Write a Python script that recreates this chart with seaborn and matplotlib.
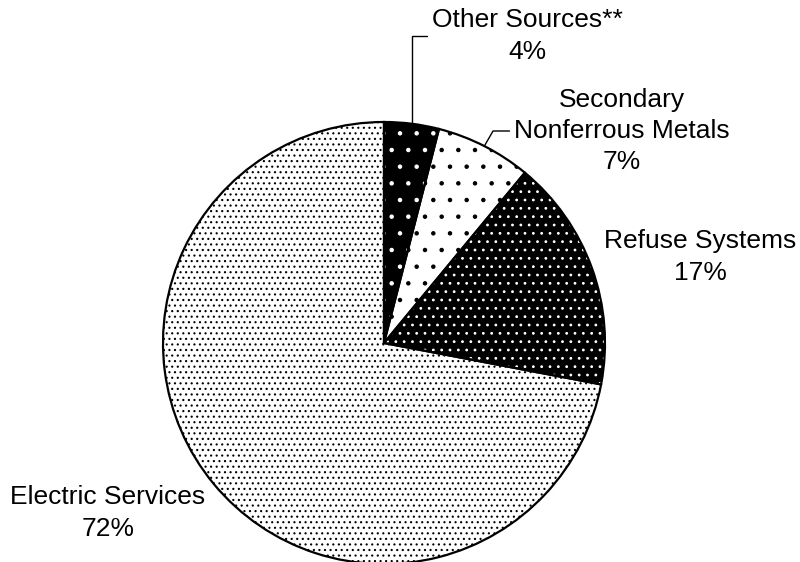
import numpy as np
import seaborn as sns
import matplotlib.pyplot as plt

sns.set_style("white")
plt.rcParams['font.family'] = ['Liberation Sans', 'DejaVu Sans']
plt.rcParams['text.color'] = 'black'
plt.rcParams['hatch.linewidth'] = 0.8

# data
sources = ['Other Sources**', 'Secondary\nNonferrous Metals', 'Refuse Systems', 'Electric Services']
shares = [4, 7, 17, 72]

# fill styles: face colour, dot colour, dot pattern
face_colors = ['black', 'white', 'black', 'white']
dot_colors = ['white', 'black', 'white', 'black']
hatches = ['.', '.', '..', '...']

# pie centre / radius in pixels, label centres in pixels
W, H = 800, 562
cx, cy, r = 384, 343, 221
label_px = [(527, 36), (622, 131), (700, 257), (108, 513)]


def to_data(px, py):
    return (px - cx) / r, (cy - py) / r


fig = plt.figure(figsize=(W / 100, H / 100), dpi=100)
ax = fig.add_axes([0, 0, 1, 1])

wedges, _ = ax.pie(shares, startangle=90, counterclock=False, colors=face_colors,
                   hatch=hatches, wedgeprops=dict(linewidth=0))
for w, c in zip(wedges, dot_colors):
    w.set_edgecolor(c)   # hatch takes the edge colour

# outlines on top
ax.pie(shares, startangle=90, counterclock=False, colors=['none'] * len(shares),
       wedgeprops=dict(edgecolor='black', linewidth=1.6))

leader_angle = {0: 90, 1: 60}
for i, (name, pct) in enumerate(zip(sources, shares)):
    label = f'{name}\n{pct}%'
    pos = to_data(*label_px[i])
    mid = np.deg2rad((wedges[i].theta1 + wedges[i].theta2) / 2)
    tip = (np.cos(mid), np.sin(mid))
    if i in leader_angle:
        ax.annotate(label, xy=tip, xytext=pos, ha='center', va='center', fontsize=19,
                    linespacing=1.38,
                    arrowprops=dict(arrowstyle='-', color='black', lw=1, relpos=(0, 0.5),
                                    shrinkA=1, shrinkB=0,
                                    connectionstyle=f'angle,angleA=0,angleB={leader_angle[i]},rad=0'))
    else:
        ax.text(pos[0], pos[1], label, ha='center', va='center', fontsize=19,
                linespacing=1.38)

ax.set_xlim(-cx / r, (W - cx) / r)
ax.set_ylim(-(H - cy) / r, cy / r)
ax.set_aspect('auto')
ax.axis('off')

fig.savefig('out.png', dpi=100)
